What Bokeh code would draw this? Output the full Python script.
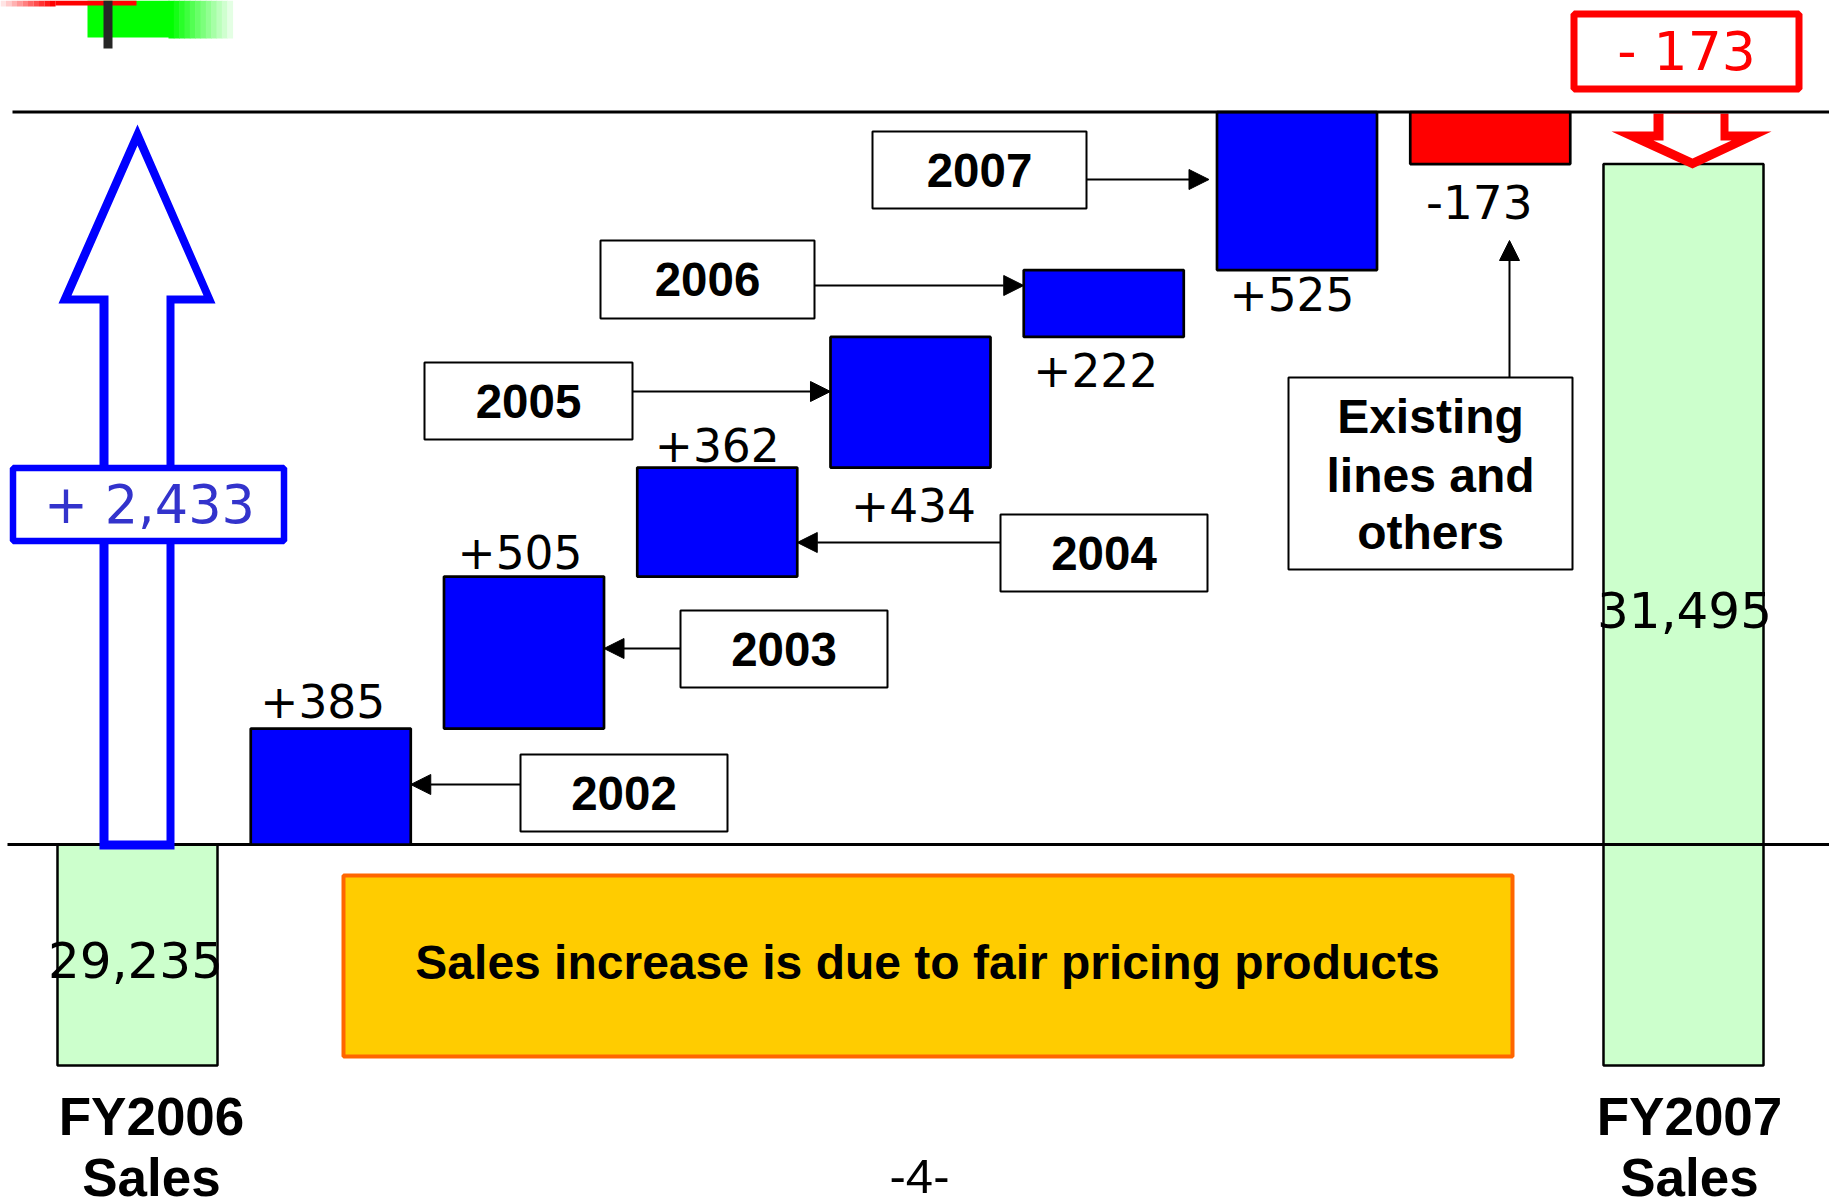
import numpy as np
from bokeh.plotting import figure
from bokeh.models import Range1d, Arrow, NormalHead
from bokeh.core.properties import value
from bokeh.embed import file_html
from bokeh.resources import INLINE

# ---- sales bridge data ------------------------------------------------
START_SALES = 29235                       # FY2006 sales
END_SALES = 31495                         # FY2007 sales
GAIN_YEARS = ["2002", "2003", "2004", "2005", "2006", "2007"]
GAIN_VALUES = [385, 505, 362, 434, 222, 525]
OTHERS_VALUE = -173                       # existing lines and others
OTHERS_TEXT = ["Existing", "lines and", "others"]
TOTAL_TITLES = [["FY2006", "Sales"], ["FY2007", "Sales"]]
NOTE_TEXT = "Sales increase is due to fair pricing products"
PAGE_TEXT = "-4-"

# ---- canvas geometry ----------------------------------------------------
W, H = 1829, 1203
SLOT0_PX, SLOT_PX = 137.0, 193.25          # centre of the first bar, bar pitch
BASE_PX, PX_PER_UNIT = 844.0, 0.30107      # screen row of the FY2006 level, px per unit
BAR_W = 0.828
FLOOR_PX = 1065                            # cut-off bottom of the two total bars

SANS = "DejaVu Sans"
BOLD = "Liberation Sans"


def fx(px):
    return (px - SLOT0_PX) / SLOT_PX


def fy(py):
    return START_SALES + (BASE_PX - py) / PX_PER_UNIT


def dy(px):
    return px / PX_PER_UNIT


p = figure(width=W, height=H, x_range=Range1d(fx(0), fx(W)), y_range=Range1d(fy(H), fy(0)),
           output_backend="svg", toolbar_location=None, min_border=0,
           x_axis_location=None, y_axis_location=None, outline_line_color=None,
           background_fill_color="white", border_fill_color="white")
p.grid.visible = False


def box(l, t, r, b, **kw):
    p.quad(left=[fx(l)], right=[fx(r)], top=[fy(t)], bottom=[fy(b)], **kw)


def put_text(xs, ys, texts, size, font=SANS, style="normal", color="black"):
    p.text(x=list(xs), y=list(ys), text=list(texts), text_font=value(font),
           text_font_size=f"{size}px", text_font_style=style, text_color=color,
           text_align="center", text_baseline="middle")


# ---- corner logo strip ----------------------------------------------------
def hexmix(c0, c1, t):
    a = [int(c0[i:i + 2], 16) for i in (1, 3, 5)]
    b = [int(c1[i:i + 2], 16) for i in (1, 3, 5)]
    return "#" + "".join(f"{round(u + (v - u) * t):02x}" for u, v in zip(a, b))


box(87, 0, 169, 37, fill_color="#00ff00", line_color=None)
for k in range(12):
    x0 = 168 + k * 64 / 12
    box(x0, 0, x0 + 64 / 12 + 0.6, 38, fill_color=hexmix("#00ff00", "#e4ffe4", k / 11), line_color=None)
for k in range(10):
    x0 = k * 55 / 10
    box(x0, 0, x0 + 5.6, 6, fill_color=hexmix("#ffe4e4", "#ff0000", k / 9), line_color=None)
box(55, 0, 136, 5, fill_color="#ff0000", line_color=None)
box(103, 0, 112, 48, fill_color="#262626", line_color=None)

# ---- waterfall values ---------------------------------------------------
levels = START_SALES + np.concatenate([[0], np.cumsum(GAIN_VALUES)])
peak = float(levels[-1])
net_gain = int(np.sum(GAIN_VALUES))
gain_x = np.arange(1, len(GAIN_VALUES) + 1)
others_x = len(GAIN_VALUES) + 1
end_x = others_x + 1

# total bars (cut off at the bottom)
p.vbar(x=[0, end_x], top=[START_SALES, END_SALES], bottom=fy(FLOOR_PX), width=BAR_W,
       fill_color="#ccffcc", line_color="black", line_width=2.5)

# baseline at the FY2006 level
p.line(x=[fx(7), fx(W)], y=[START_SALES, START_SALES], line_color="black", line_width=3)

# yearly gains
p.vbar(x=gain_x, top=levels[1:], bottom=levels[:-1], width=BAR_W,
       fill_color="#0000ff", line_color="black", line_width=2.7)
# existing lines and others
p.vbar(x=[others_x], top=[peak], bottom=[peak + OTHERS_VALUE], width=BAR_W,
       fill_color="#ff0000", line_color="black", line_width=2.7)

# red hollow arrow pointing down onto FY2007
red_out = [(1653, 113), (1728, 113), (1728, 131), (1771, 131), (1692, 168), (1611, 131), (1653, 131)]
red_in = [(1663, 113), (1720, 113), (1720, 140), (1731, 140), (1692, 158), (1653, 140), (1663, 140)]
p.patch([fx(a) for a, _ in red_out], [fy(b) for _, b in red_out], fill_color="#ff0000", line_color=None)
p.patch([fx(a) for a, _ in red_in], [fy(b) for _, b in red_in], fill_color="white", line_color=None)

# line at the peak level
p.line(x=[fx(12), fx(W)], y=[peak, peak], line_color="black", line_width=3)

# blue hollow arrow for the net gain
blue_out = [(137, 124), (215, 303), (174, 303), (174, 849), (99, 849), (99, 303), (58, 303)]
blue_in = [(137, 145), (203, 295), (166, 295), (166, 840), (108, 840), (108, 295), (71, 295)]
p.patch([fx(a) for a, _ in blue_out], [fy(b) for _, b in blue_out], fill_color="#0000ff", line_color=None)
p.patch([fx(a) for a, _ in blue_in], [fy(b) for _, b in blue_in], fill_color="white", line_color=None)

# ---- boxes ----------------------------------------------------------------
box(12.5, 467.5, 283.5, 540.5, fill_color="white", line_color="#0000ff", line_width=6.5)
box(1573.5, 13.5, 1798.5, 88.5, fill_color="white", line_color="#ff0000", line_width=7)
box(343, 875, 1512, 1056, fill_color="#ffcc00", line_color="#ff6600", line_width=4)
box(1288, 377, 1572, 569, fill_color="white", line_color="black", line_width=2)

YEAR_BOX_PX = [(520, 754, 727, 831), (680, 610, 887, 687), (1000, 514, 1207, 591),
               (424, 362, 632, 439), (600, 240, 814, 318), (872, 131, 1086, 208)]
ARROW_ROW_PX = [784, 648, 542, 391, 285, 179]
TIP_GAP_PX = [0, 0, 0, 0, 0, 8]
for i, (l, t, r, b) in enumerate(YEAR_BOX_PX):
    box(l, t, r, b, fill_color="white", line_color="black", line_width=2)
    if i < 3:
        xs, xe = fx(l), gain_x[i] + BAR_W / 2 + TIP_GAP_PX[i] / SLOT_PX
    else:
        xs, xe = fx(r), gain_x[i] - BAR_W / 2 - TIP_GAP_PX[i] / SLOT_PX
    p.add_layout(Arrow(end=NormalHead(size=20, fill_color="black", line_color="black", line_width=1),
                       x_start=xs, y_start=fy(ARROW_ROW_PX[i]), x_end=xe, y_end=fy(ARROW_ROW_PX[i]),
                       line_color="black", line_width=2))

p.add_layout(Arrow(end=NormalHead(size=20, fill_color="black", line_color="black", line_width=1),
                   x_start=fx(1509), y_start=fy(377), x_end=fx(1509), y_end=fy(240),
                   line_color="black", line_width=2))

# ---- texts ------------------------------------------------------------------
put_text([fx((l + r) / 2) for l, t, r, b in YEAR_BOX_PX],
         [fy((t + b) / 2) for l, t, r, b in YEAR_BOX_PX], GAIN_YEARS, 47.5, font=BOLD, style="bold")

# gain labels: first three above their bars, the rest below
GAP_PX = [28, 25, 23, 37, 33, 24]
NUDGE_PX = [-8, -4, 0, 3, -8, -5]
lab_x, lab_y = [], []
for i in range(len(GAIN_VALUES)):
    lab_x.append(gain_x[i] + NUDGE_PX[i] / SLOT_PX)
    if i < 3:
        lab_y.append(levels[i + 1] + dy(GAP_PX[i]))
    else:
        lab_y.append(levels[i] - dy(GAP_PX[i]))
put_text(lab_x, lab_y, [f"{v:+d}" for v in GAIN_VALUES], 45.5)
put_text([others_x - 11 / SLOT_PX], [peak + OTHERS_VALUE - dy(38)], [f"{OTHERS_VALUE:d}"], 47)

# totals inside the green bars
put_text([fx(135), fx(1684)], [fy(959), fy(609)],
         [f"{START_SALES:,}", f"{END_SALES:,}"], 50)

put_text([fx(149)], [fy(504)], [f"+ {net_gain:,}"], 52.5, color="#3333cc")
put_text([fx(1686)], [fy(51)], [f"- {abs(OTHERS_VALUE)}"], 53.5, color="#ff0000")

put_text([fx(1430)] * 3, [fy(416), fy(475), fy(532)], OTHERS_TEXT, 48, font=BOLD, style="bold")
put_text([fx(927)], [fy(962)], [NOTE_TEXT], 48, font=BOLD, style="bold")
put_text([fx(919)], [fy(1176)], [PAGE_TEXT], 49, font=BOLD)

for cx, (l1, l2) in zip([fx(151), fx(1689)], TOTAL_TITLES):
    put_text([cx, cx], [fy(1116), fy(1177)], [l1, l2], 53, font=BOLD, style="bold")

open("out.html", "w").write(file_html(p, INLINE))
